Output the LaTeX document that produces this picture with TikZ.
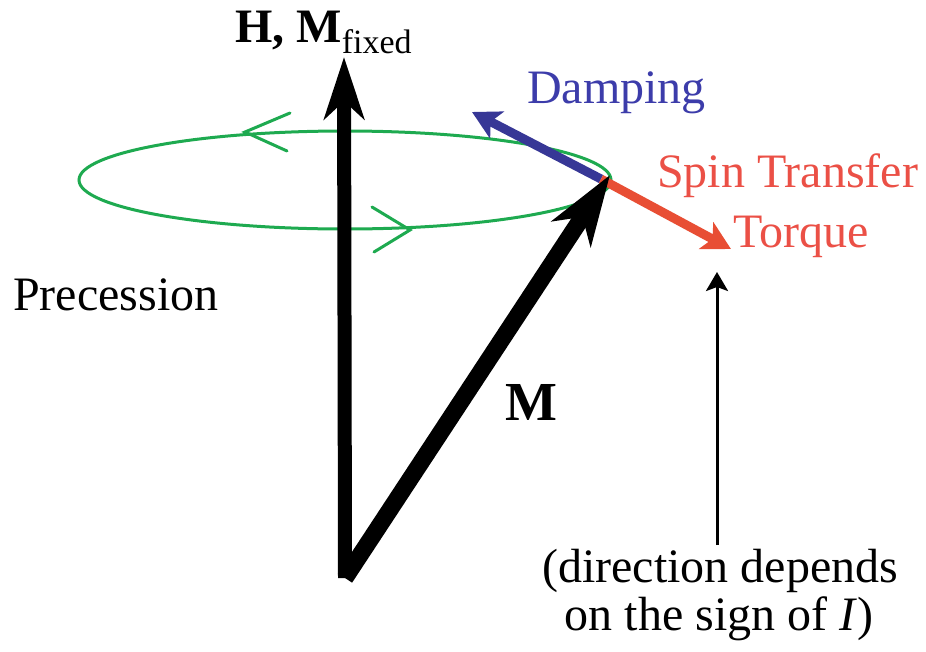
\documentclass[tikz,border=0pt]{standalone}
\usepackage{fontspec}
\setmainfont{Liberation Serif}
\usetikzlibrary{arrows.meta}
\definecolor{precgreen}{RGB}{30,170,80}
\definecolor{dampblue}{RGB}{55,55,150}
\definecolor{sttred}{RGB}{232,78,52}
\definecolor{dampText}{RGB}{60,60,170}
\definecolor{sttText}{RGB}{235,80,70}
\tikzset{
  lbl/.style={inner sep=0pt, anchor=base west, font=\fontsize{48}{56}\selectfont},
  bigvec/.style={line width=14pt, -{Stealth[length=62pt,width=40pt,inset=18pt]}},
  mvec/.style={line width=17pt, -{Stealth[length=70pt,width=46pt,inset=20pt]}},
  smallvec/.style={line width=9pt, -{Stealth[length=28pt,width=30pt,inset=7pt]}},
  thinvec/.style={line width=3pt, -{Stealth[length=19pt,width=22pt,inset=4pt]}},
  orbit/.style={precgreen, line width=3pt},
  vhead/.style={precgreen, line width=3pt, line cap=round}
}
\begin{document}
\begin{tikzpicture}[x=1pt,y=-1pt]
\useasboundingbox (0,0) rectangle (926,651);
% precession orbit
\draw[orbit] (345,180) ellipse [x radius=266, y radius=49];
\coordinate (ta) at (245,132);
\coordinate (tb) at (410,230);
\draw[vhead] (290,113) -- (ta) -- (287,151);
\draw[vhead] (372,207) -- (tb) -- (374,252);
% coordinates
\coordinate (O) at (345,578);
\coordinate (Htip) at (344,57);
\coordinate (Mtip) at (610,175);
\coordinate (J) at (601,179);
\coordinate (Dtip) at (472,112);
\coordinate (Ttip) at (731,249);
\coordinate (Sbot) at (717,545);
\coordinate (Stop) at (717,272);
% vectors
\draw[smallvec, dampblue] (J) -- (Dtip);
\draw[smallvec, sttred] (J) -- (Ttip);
\draw[bigvec] (O) -- (Htip);
\draw[mvec] (O) -- (Mtip);
\draw[thinvec] (Sbot) -- (Stop);
% labels
\node[lbl] (hm) at (235,42) {\bfseries H, M\raisebox{-11pt}{\fontsize{34}{40}\selectfont\mdseries fixed}};
\node[lbl, text=dampText] (damp) at (527,103) {Damping};
\node[lbl, text=sttText] (spin) at (657,187) {Spin Transfer};
\node[lbl, text=sttText] (torq) at (733,247) {Torque};
\node[lbl] (prec) at (13,310) {Precession};
\node[lbl, font=\fontsize{55}{60}\selectfont\bfseries] (mlab) at (505,420) {M};
\node[lbl, anchor=base] (dir1) at (720,582) {(direction depends};
\node[lbl, anchor=base] (dir2) at (719,630) {on the sign of \textit{I})};
\end{tikzpicture}
\end{document}
